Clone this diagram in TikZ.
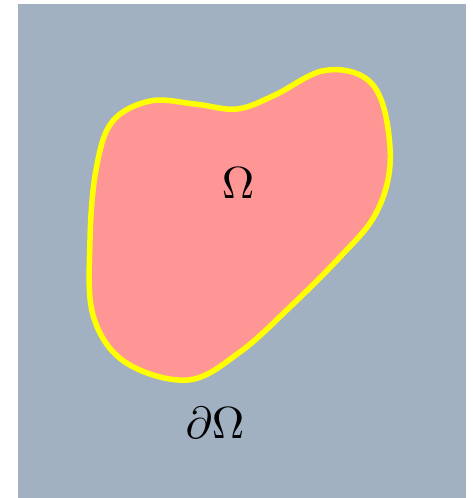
\documentclass[tikz,border=0pt]{standalone}
\definecolor{bgblue}{HTML}{A2B1C1}
\definecolor{domred}{HTML}{FF9696}
\definecolor{bdyellow}{HTML}{FFFF00}
\tikzset{lbl/.style={scale=4.5,transform shape}}
\begin{document}
\begin{tikzpicture}[x=1pt,y=-1pt]
\useasboundingbox (0,0) rectangle (472,498);
\fill[bgblue] (18,4) rectangle (466,498);

\draw[bdyellow,line width=5.5pt,fill=domred] plot[smooth cycle,tension=0.6] coordinates {
(150,101) (195,104) (237,109) (275,95) (322,71) (362,76) (383,105)
(390,165) (375,215) (340,257) (290,307) (240,352) (188,380)
(125,362) (93,315) (90,240) (96,170) (112,122)};

\node[lbl] (omega) at (238,183) {$\Omega$};
\node[lbl] (bdry) at (215,423) {$\partial\Omega$};
\end{tikzpicture}
\end{document}
